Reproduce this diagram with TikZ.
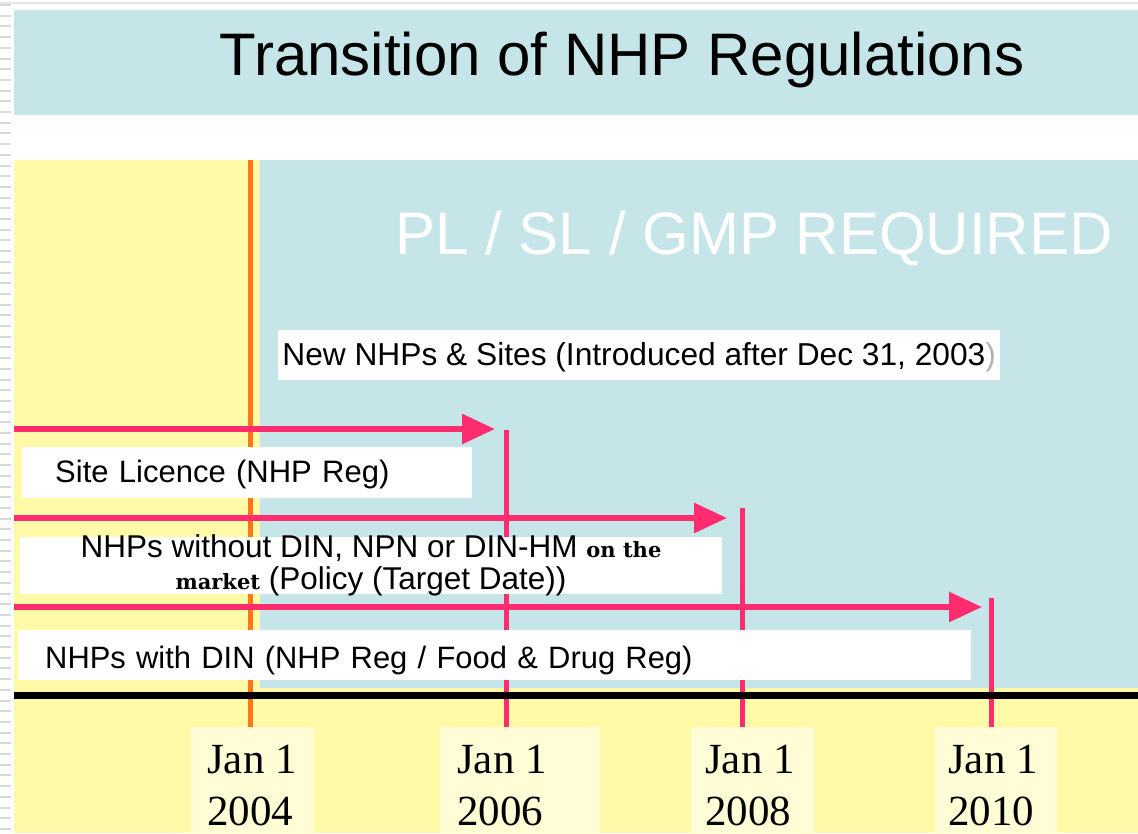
\documentclass[tikz,border=0pt]{standalone}
\usepackage{fontspec}
\setmainfont{Liberation Sans}
\newfontfamily\serifrm{Liberation Serif}
\newfontfamily\wideserif{DejaVu Serif}
\usetikzlibrary{arrows.meta}
\definecolor{bgblue}{HTML}{C5E5E9}
\definecolor{bgyel}{HTML}{FFFAA8}
\definecolor{lightyel}{HTML}{FFFCD6}
\definecolor{rpink}{HTML}{FF2D70}
\definecolor{rorange}{HTML}{FF7518}
\tikzset{
  wbox/.style={fill=white, inner sep=0pt, anchor=north west},
  datebox/.style={fill=lightyel, inner sep=0pt, anchor=north west, minimum height=112pt},
  pinkarrow/.style={draw=rpink, line width=6pt, -{Triangle[length=33pt,width=29pt]}},
  pinkmark/.style={draw=rpink, line width=5pt},
  orangemark/.style={draw=rorange, line width=5pt},
  boxtext/.style={font=\fontsize{#1}{32}\selectfont},
  boxtext/.default=31.5,
  datetext/.style={font=\serifrm\fontsize{43}{52}\selectfont, anchor=base west, inner sep=0pt}
}
\newcommand{\srfb}[1]{{\wideserif\bfseries\fontsize{21}{32}\selectfont #1}}
\begin{document}
\begin{tikzpicture}[x=1pt,y=-1pt]
\useasboundingbox (0,0) rectangle (1138,833);
\fill[white] (0,0) rectangle (1138,833);
% left margin stripes and top line
\foreach \k in {0,...,77} \fill[gray!30] (0,{4+\k*10.7}) rectangle (11,{6+\k*10.7});
\draw[gray!20, line width=1.5pt] (0,3) -- (1138,3);
% title band
\fill[bgblue] (14,10) rectangle (1138,115);
\node[font=\fontsize{60}{70}\selectfont, anchor=base, inner sep=0pt] (title) at (622,75) {Transition of NHP Regulations};
% main area
\fill[bgyel] (14,160) rectangle (1138,833);
\fill[bgblue] (260,160) rectangle (1138,688);
\node[font=\fontsize{60}{70}\selectfont, text=white, anchor=base, inner sep=0pt] (req) at (754,254) {PL / SL / GMP REQUIRED};
% marker coordinates
\coordinate (o04t) at (250,160); \coordinate (o04b) at (250,727);
\coordinate (m06t) at (506,430); \coordinate (m06b) at (506,727);
\coordinate (m08t) at (742,508); \coordinate (m08b) at (742,727);
\coordinate (m10t) at (991,598); \coordinate (m10b) at (991,727);
\draw[orangemark] (o04t) -- (o04b);
\draw[pinkmark] (m06t) -- (m06b);
\draw[pinkmark] (m08t) -- (m08b);
\draw[pinkmark] (m10t) -- (m10b);
% arrows
\coordinate (a1s) at (14,429); \coordinate (a1e) at (495,429);
\coordinate (a2s) at (14,518); \coordinate (a2e) at (727,518);
\coordinate (a3s) at (14,607); \coordinate (a3e) at (982,607);
\draw[pinkarrow] (a1s) -- (a1e);
\draw[pinkarrow] (a2s) -- (a2e);
\draw[pinkarrow] (a3s) -- (a3e);
% white boxes
\node[wbox, boxtext=31.7, minimum width=722pt, minimum height=50pt, text height=23pt, text depth=3pt] (newb) at (278,330)
  {New NHPs \& Sites (Introduced after Dec 31, 2003{\color{gray!60})}};
\node[wbox, boxtext=31, minimum height=51pt, inner xsep=33pt, text width=384pt, align=left, text height=23pt, text depth=4pt] (slb) at (22,447)
  {Site Licence (NHP Reg)};
\node[wbox, minimum width=702pt, minimum height=57pt] (wob) at (20,537) {};
\node[boxtext, anchor=base, inner sep=0pt] (wot) at (371,557)
  {\begin{tabular}[t]{@{}c@{}}NHPs without DIN, NPN or DIN-HM \srfb{on the}\\ \srfb{market} (Policy (Target Date))\end{tabular}};
\node[wbox, boxtext=30.9, minimum height=50pt, inner xsep=27pt, text width=899pt, align=left, text height=26pt, text depth=0pt] (wdb) at (18,630)
  {NHPs with DIN (NHP Reg / Food \& Drug Reg)};
% timeline axis
\coordinate (axl) at (14,695.5); \coordinate (axr) at (1138,695.5);
\draw[black, line width=6.5pt] (axl) -- (axr);
% date boxes
\node[datebox, minimum width=123pt] (d04) at (191,727) {};
\node[datebox, minimum width=160pt] (d06) at (440,727) {};
\node[datebox, minimum width=123pt] (d08) at (691,727) {};
\node[datebox, minimum width=122pt] (d10) at (935,727) {};
\node[datetext] (t04) at (207,773) {\begin{tabular}[t]{@{}l@{}}Jan 1\\2004\end{tabular}};
\node[datetext] (t06) at (457,773) {\begin{tabular}[t]{@{}l@{}}Jan 1\\2006\end{tabular}};
\node[datetext] (t08) at (705,773) {\begin{tabular}[t]{@{}l@{}}Jan 1\\2008\end{tabular}};
\node[datetext] (t10) at (948,773) {\begin{tabular}[t]{@{}l@{}}Jan 1\\2010\end{tabular}};
\end{tikzpicture}
\end{document}
